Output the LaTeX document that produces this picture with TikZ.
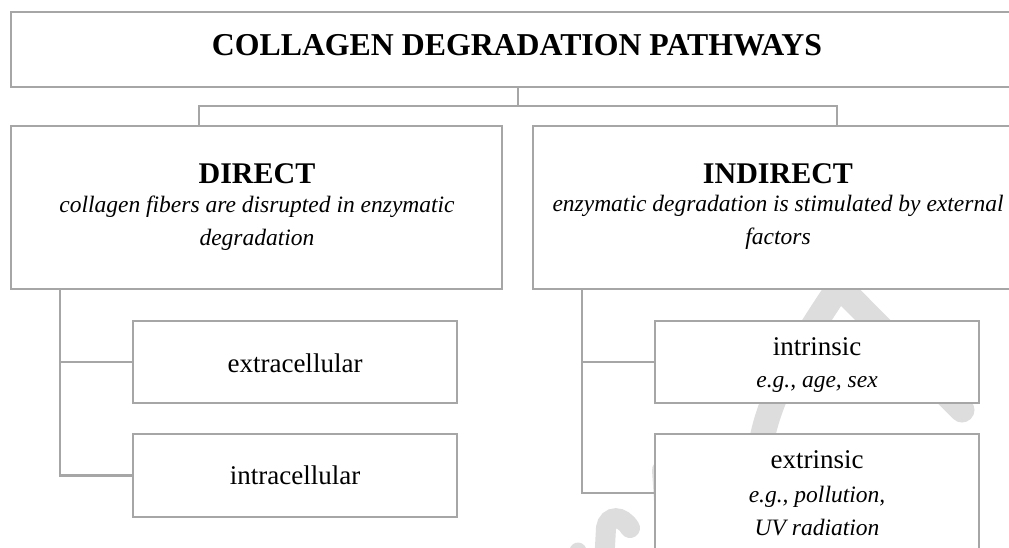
\documentclass[tikz,border=0pt]{standalone}
\usepackage{fontspec}
\setmainfont{Liberation Serif}
\definecolor{linegray}{RGB}{166,166,166}
\definecolor{wmgray}{RGB}{221,221,221}
\begin{document}
\begin{tikzpicture}[x=1pt,y=-1pt,
  box/.style={draw=linegray,line width=2.7pt,fill=white,inner sep=0pt},
  conn/.style={draw=linegray,line width=2.7pt},
  wm/.style={draw=wmgray,line width=25pt,line cap=round},
  ttl/.style={anchor=base,inner sep=0pt,font=\fontsize{30}{36}\selectfont\bfseries},
  itl/.style={anchor=base,inner sep=0pt,font=\fontsize{23.5}{28}\selectfont\itshape},
  reg/.style={anchor=base,inner sep=0pt,font=\fontsize{27}{32}\selectfont}]
\useasboundingbox (0,0) rectangle (1009,547);
\clip (0,0) rectangle (1009,547);
\fill[white] (0,0) rectangle (1009,547);
% watermark
\draw[wm] (838,285) -- (962,410);
\draw[wm] (838,288) .. controls (800,345) and (768,395) .. (760,450);
\draw[wm,line width=20pt] (604,565) -- (606,528) .. controls (608,515) and (622,515) .. (630,528);
\draw[wm,line width=20pt] (662,470) -- (664,500);
\draw[wm,line width=17pt] (578,551) -- (577,565);
% boxes
\node[box,minimum width=1012pt,minimum height=75pt] (top) at (517,49.5) {};
\node[box,minimum width=491pt,minimum height=163pt] (direct) at (256.5,207.5) {};
\node[box,minimum width=490pt,minimum height=163pt] (indirect) at (778,207.5) {};
\node[box,minimum width=324pt,minimum height=82pt] (extra) at (295,362) {};
\node[box,minimum width=324pt,minimum height=83pt] (intra) at (295,475.5) {};
\node[box,minimum width=324pt,minimum height=82pt] (intrin) at (817,362) {};
\node[box,minimum width=324pt,minimum height=118pt] (extrin) at (817,493) {};
% connectors
\coordinate (hub) at (518,106);
\coordinate (dj) at (199,106);
\coordinate (ij) at (837,106);
\coordinate (dv) at (60,300);
\coordinate (iv) at (582,300);
\draw[conn] (hub |- top.south) -- (hub);
\draw[conn] (dj |- direct.north) -- (dj) -- (ij) -- (ij |- indirect.north);
\draw[conn] (dv |- direct.south) |- (intra.west);
\draw[conn] (dv |- extra.west) -- (extra.west);
\draw[conn] (iv |- indirect.south) |- (extrin.west);
\draw[conn] (iv |- intrin.west) -- (intrin.west);
% texts
\node[ttl,font=\fontsize{31.8}{36}\selectfont\bfseries] (t0) at (517,55.5) {COLLAGEN DEGRADATION PATHWAYS};
\node[ttl] (t1) at (257,183) {DIRECT};
\node[itl] (t2) at (257,212) {collagen fibers are disrupted in enzymatic};
\node[itl] (t3) at (257,245) {degradation};
\node[ttl] (t4) at (778,183) {INDIRECT};
\node[itl] (t5) at (778,211) {enzymatic degradation is stimulated by external};
\node[itl] (t6) at (778,244) {factors};
\node[reg] (t7) at (295,372) {extracellular};
\node[reg] (t8) at (295,484) {intracellular};
\node[reg] (t9) at (817,355) {intrinsic};
\node[itl] (t10) at (817,387) {e.g., age, sex};
\node[reg] (t11) at (817,468) {extrinsic};
\node[itl] (t12) at (817,502) {e.g., pollution,};
\node[itl] (t13) at (817,535) {UV radiation};
\end{tikzpicture}
\end{document}
